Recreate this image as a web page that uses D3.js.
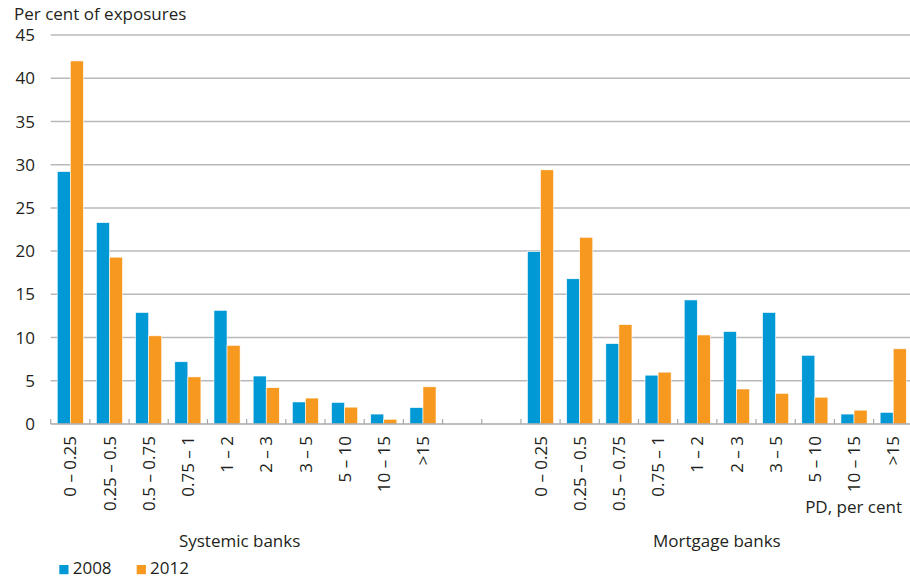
<!DOCTYPE html>
<html>
<head>
<meta charset="utf-8">
<script src="https://cdn.jsdelivr.net/npm/d3@7"></script>
<style>
  body { margin: 0; background: #fff; }
  text { font-family: "Open Sans", "Noto Sans", sans-serif; fill: #231f20; }
</style>
</head>
<body>
<svg id="chart" width="910" height="578"></svg>
<script>
// PD buckets (per cent) shared by both bank groups
const buckets = ["0 – 0.25", "0.25 – 0.5", "0.5 – 0.75", "0.75 – 1", "1 – 2", "2 – 3", "3 – 5", "5 – 10", "10 – 15", ">15"];
const groups = ["Systemic banks", "Mortgage banks"];
const years = ["2008", "2012"];
const colors = ["#0099d6", "#f7991f"];

// Share of exposures, per cent
const systemic2008 = [29.2, 23.3, 12.9, 7.2, 13.15, 5.55, 2.55, 2.5, 1.15, 1.9];
const systemic2012 = [42.0, 19.3, 10.2, 5.45, 9.1, 4.2, 3.0, 1.95, 0.55, 4.3];
const mortgage2008 = [19.95, 16.8, 9.3, 5.65, 14.35, 10.7, 12.9, 7.95, 1.15, 1.35];
const mortgage2012 = [29.4, 21.6, 11.5, 6.0, 10.3, 4.05, 3.55, 3.1, 1.6, 8.7];

const yTicks = [0, 5, 10, 15, 20, 25, 30, 35, 40, 45];

const FS = 17;
const svg = d3.select("#chart");
const plotLeft = 50.7, plotRight = 912.8, plotTop = 35, plotBottom = 424;

// 22 slots: systemic buckets, two empty spacer slots, mortgage buckets
const slots = [
  ...buckets.map(b => "S|" + b),
  "gap1", "gap2",
  ...buckets.map(b => "M|" + b)
];
const x0 = d3.scaleBand().domain(slots).range([plotLeft, plotRight]).padding(0);
const x1 = d3.scaleBand().domain(years).range([0, x0.bandwidth()]).paddingInner(0).paddingOuter(0.5);
const y = d3.scaleLinear().domain([0, 45]).range([plotBottom, plotTop]);

// Horizontal gridlines
svg.append("g").selectAll("line").data(yTicks.filter(t => t > 0)).join("line")
  .attr("x1", plotLeft).attr("x2", 910)
  .attr("y1", d => y(d)).attr("y2", d => y(d))
  .attr("stroke", "#b9b9bb").attr("stroke-width", 1.5);

// Y tick labels
svg.append("g").selectAll("text").data(yTicks).join("text")
  .attr("x", 35).attr("y", d => y(d)).attr("dy", "0.36em")
  .attr("text-anchor", "end").attr("font-size", FS)
  .text(d => d);

svg.append("text").attr("x", 14).attr("y", 20).attr("font-size", FS)
  .text("Per cent of exposures");

// Bars
const rows = [];
buckets.forEach((b, i) => {
  rows.push({ slot: "S|" + b, year: "2008", v: systemic2008[i] });
  rows.push({ slot: "S|" + b, year: "2012", v: systemic2012[i] });
  rows.push({ slot: "M|" + b, year: "2008", v: mortgage2008[i] });
  rows.push({ slot: "M|" + b, year: "2012", v: mortgage2012[i] });
});
svg.append("g").selectAll("rect").data(rows).join("rect")
  .attr("x", d => x0(d.slot) + x1(d.year))
  .attr("width", x1.bandwidth())
  .attr("y", d => y(d.v))
  .attr("height", d => y(0) - y(d.v))
  .attr("fill", d => colors[years.indexOf(d.year)])
  .attr("stroke", "#ffffff").attr("stroke-width", 0.6);

// Baseline and slot-boundary ticks
svg.append("line").attr("x1", plotLeft).attr("x2", 910)
  .attr("y1", y(0)).attr("y2", y(0))
  .attr("stroke", "#a7a9ac").attr("stroke-width", 1.5);
const bounds = slots.map(s => x0(s)).concat([plotRight]);
svg.append("g").selectAll("line").data(bounds).join("line")
  .attr("x1", d => d).attr("x2", d => d)
  .attr("y1", y(0)).attr("y2", y(0) - 5)
  .attr("stroke", "#a7a9ac").attr("stroke-width", 1.2);

// Rotated bucket labels
svg.append("g").selectAll("text").data(slots.filter(s => s.includes("|"))).join("text")
  .attr("transform", d => `translate(${x0(d) + x0.bandwidth() / 2},436) rotate(-90)`)
  .attr("dy", "0.36em").attr("text-anchor", "end").attr("font-size", FS)
  .text(d => d.split("|")[1]);

// Group captions
const groupCenter = p => {
  const keys = slots.filter(s => s.startsWith(p));
  return (x0(keys[0]) + x0(keys[keys.length - 1]) + x0.bandwidth()) / 2;
};
svg.append("text").attr("x", groupCenter("S|") - 7).attr("y", 547)
  .attr("text-anchor", "middle").attr("font-size", FS).text(groups[0]);
svg.append("text").attr("x", groupCenter("M|")).attr("y", 547)
  .attr("text-anchor", "middle").attr("font-size", FS).text(groups[1]);
svg.append("text").attr("x", 902).attr("y", 513)
  .attr("text-anchor", "end").attr("font-size", FS).text("PD, per cent");

// Legend
const legend = svg.append("g").selectAll("g").data(years).join("g")
  .attr("transform", (d, i) => `translate(${59.3 + i * 77.4},565)`);
legend.append("rect").attr("width", 9.2).attr("height", 9.2)
  .attr("fill", (d, i) => colors[i]);
legend.append("text").attr("x", 13.4).attr("y", 9.4).attr("font-size", FS)
  .text(d => d);
</script>
</body>
</html>
